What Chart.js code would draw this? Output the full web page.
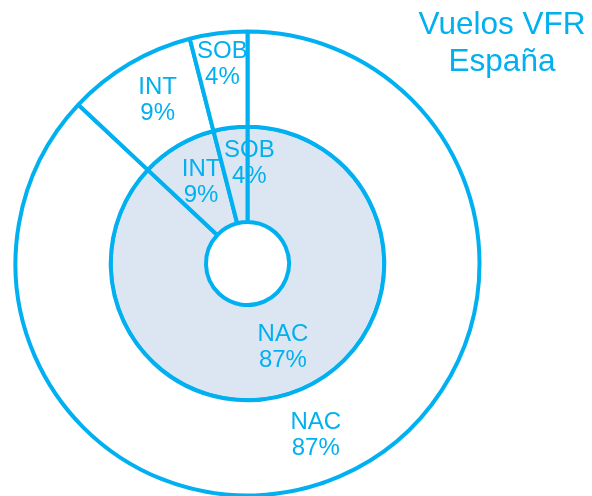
<!DOCTYPE html>
<html>
<head>
<meta charset="utf-8">
<script src="https://cdn.jsdelivr.net/npm/chart.js@4/dist/chart.umd.min.js"></script>
<style>
  html, body { margin: 0; padding: 0; background: #ffffff; }
  #wrap { width: 592px; height: 496px; }
</style>
</head>
<body>
<div id="wrap"><canvas id="c" width="592" height="496"></canvas></div>
<script>
// ---- data ----
const categories = ['NAC', 'INT', 'SOB'];
const outerValues = [87, 9, 4];   // outer ring (%)
const innerValues = [87, 9, 4];   // inner ring (%)
const titleLines = ['Vuelos VFR', 'España'];

// ---- styles ----
const CYAN = '#00b0f0';
const INNER_FILL = '#dce6f2';
const FONT = '"Liberation Sans", Arial, sans-serif';

const labelPlugin = {
  id: 'ringLabels',
  afterDatasetsDraw(chart, args, opts) {
    const ctx = chart.ctx;
    ctx.save();
    ctx.fillStyle = CYAN;
    ctx.textAlign = 'center';
    ctx.textBaseline = 'alphabetic';
    const size = opts.fontSize;
    const lh = opts.lineHeight;
    const cap = size * 0.716;
    ctx.font = size + 'px ' + FONT;
    chart.data.datasets.forEach((ds, di) => {
      const meta = chart.getDatasetMeta(di);
      meta.data.forEach((arc, i) => {
        const p = arc.getProps(['x', 'y', 'startAngle', 'endAngle', 'innerRadius', 'outerRadius'], true);
        const mid = (p.startAngle + p.endAngle) / 2;
        const r = (p.innerRadius + p.outerRadius) / 2;
        const nudge = (opts.nudges[di] && opts.nudges[di][i]) || [0, 0];
        const cx = p.x + Math.cos(mid) * r + nudge[0];
        const cy = p.y + Math.sin(mid) * r + nudge[1];
        const b1 = cy - lh / 2 + cap / 2;
        ctx.fillText(chart.data.labels[i], cx, b1);
        ctx.fillText(ds.data[i] + '%', cx, b1 + lh);
      });
    });
    // title
    ctx.font = opts.titleSize + 'px ' + FONT;
    titleLines.forEach((t, k) => {
      ctx.fillText(t, opts.titleX, opts.titleY + k * opts.titleLine);
    });
    ctx.restore();
  }
};

new Chart(document.getElementById('c'), {
  type: 'doughnut',
  data: {
    labels: categories,
    datasets: [
      {
        data: outerValues,
        backgroundColor: '#ffffff',
        borderColor: CYAN,
        borderWidth: 4,
        weight: 1
      },
      {
        data: innerValues,
        backgroundColor: INNER_FILL,
        borderColor: CYAN,
        borderWidth: 4,
        weight: 1
      }
    ]
  },
  options: {
    responsive: false,
    animation: false,
    events: [],
    radius: 232,
    cutout: '17.9%',
    rotation: 0,
    layout: { padding: { left: 0, right: 97, top: 31, bottom: 0 } },
    plugins: {
      legend: { display: false },
      tooltip: { enabled: false },
      title: { display: false },
      ringLabels: {
        fontSize: 24,
        lineHeight: 26,
        titleSize: 31.5,
        titleX: 502,
        titleY: 34,
        titleLine: 37,
        nudges: [
          [[-5, 1], [4, -6], [-2, -18]],
          [[0, 0], [-1, -6], [13, -14]]
        ]
      }
    }
  },
  plugins: [labelPlugin]
});
</script>
</body>
</html>
